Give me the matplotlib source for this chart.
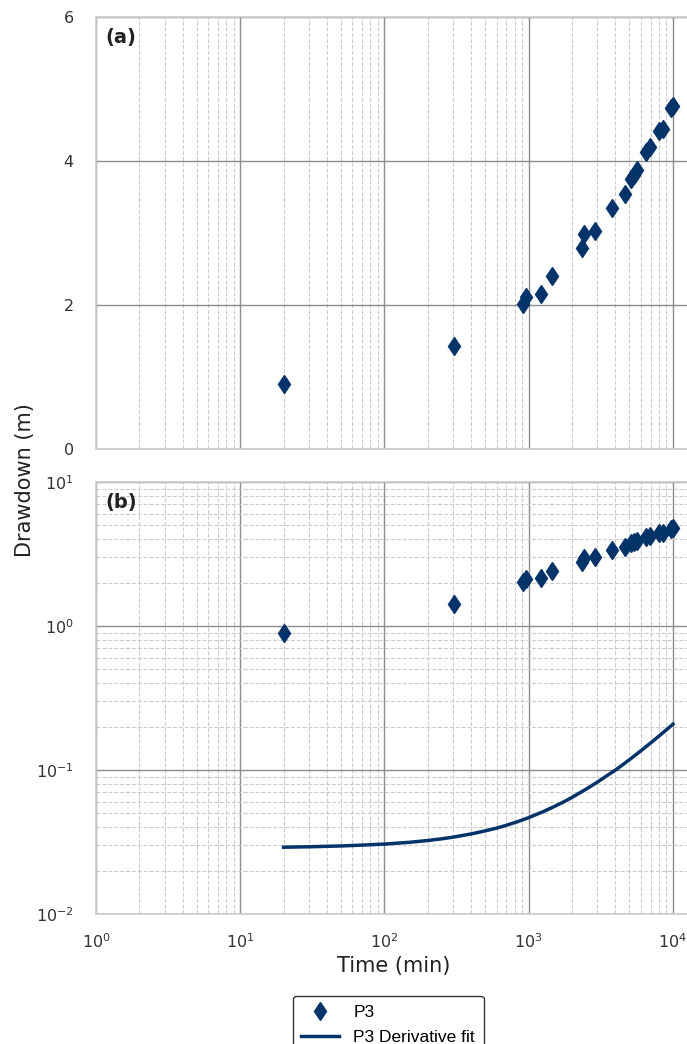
import matplotlib
matplotlib.use("Agg")
import matplotlib.pyplot as plt
from matplotlib.ticker import LogLocator, NullFormatter
import numpy as np

# P3 drawdown observations (time in min, drawdown in m)
time_p3 = [20, 303, 918, 958, 1211, 1445, 2333, 2410, 2890, 3810, 4670,
           5110, 5390, 5683, 6560, 6920, 8030, 8530, 9680, 10000]
draw_p3 = [0.90, 1.43, 2.01, 2.11, 2.16, 2.40, 2.79, 2.99, 3.03, 3.35, 3.54,
           3.75, 3.81, 3.87, 4.12, 4.19, 4.42, 4.45, 4.73, 4.76]

# derivative fit curve
time_fit = [20, 30, 50, 70, 100, 150, 200, 250, 300, 400, 500, 600, 700, 850,
            1000, 1250, 1500, 1750, 2000, 2500, 3000, 3500, 4000, 4500, 5000,
            6000, 7000, 8000, 9000, 10000]
deriv_fit = [0.0291, 0.0293, 0.0297, 0.0301, 0.0306, 0.0315, 0.0324, 0.0333,
             0.0342, 0.0360, 0.0378, 0.0395, 0.0413, 0.0440, 0.0467, 0.0512,
             0.0557, 0.0601, 0.0646, 0.0736, 0.0825, 0.0915, 0.100, 0.109,
             0.118, 0.136, 0.154, 0.172, 0.190, 0.208]

navy = '#04336a'
major_c = '#8c8c8c'
minor_c = '#cccccc'
spine_c = '#cccccc'
tick_c = '#333333'

fig = plt.figure(figsize=(6.87, 10.44), dpi=100)
ax1 = fig.add_axes([0.1397, 0.5699, 0.866, 0.4138])
ax2 = fig.add_axes([0.1397, 0.1245, 0.866, 0.4138])

xmax = 10 ** ((690 - 96) / 144.0)

for ax in (ax1, ax2):
    ax.set_xscale('log')
    ax.set_xlim(1, xmax)
    ax.xaxis.set_major_locator(LogLocator(base=10, numticks=10))
    ax.xaxis.set_minor_locator(LogLocator(base=10, subs=np.arange(2, 10), numticks=20))
    ax.xaxis.set_minor_formatter(NullFormatter())
    ax.grid(True, which='major', color=major_c, linewidth=1.0, linestyle='-')
    ax.grid(True, which='minor', axis='x', color=minor_c, linewidth=0.8, linestyle='--')
    ax.set_axisbelow(True)
    for s in ax.spines.values():
        s.set_color(spine_c)
        s.set_linewidth(1.2)
    ax.spines['right'].set_visible(False)
    ax.tick_params(which='both', length=0, labelsize=11.5, labelcolor=tick_c)
    ax.tick_params(axis='y', pad=16)
    ax.tick_params(axis='x', pad=13)

# (a) linear drawdown
ax1.plot(time_p3, draw_p3, linestyle='none', marker='d', markersize=9.5,
         color=navy, label='P3')
ax1.set_ylim(0, 6)
ax1.set_yticks([0, 2, 4, 6])
ax1.tick_params(axis='x', labelbottom=False)
ax1.text(0.015, 0.975, '(a)', transform=ax1.transAxes, fontsize=14,
         fontweight='bold', va='top', ha='left', color='#222222')

# (b) log-log with derivative fit
ax2.plot(time_p3, draw_p3, linestyle='none', marker='d', markersize=9.5,
         color=navy, label='P3')
ax2.plot(time_fit, deriv_fit, color=navy, linewidth=2.5, label='P3 Derivative fit')
ax2.set_yscale('log')
ax2.set_ylim(1e-2, 1e1)
ax2.yaxis.set_major_locator(LogLocator(base=10, numticks=10))
ax2.yaxis.set_minor_locator(LogLocator(base=10, subs=np.arange(2, 10), numticks=20))
ax2.yaxis.set_minor_formatter(NullFormatter())
ax2.grid(True, which='minor', axis='y', color=minor_c, linewidth=0.8, linestyle='--')
ax2.text(0.015, 0.975, '(b)', transform=ax2.transAxes, fontsize=14,
         fontweight='bold', va='top', ha='left', color='#222222')
ax2.set_xlabel('Time (min)', fontsize=15, color='#222222', labelpad=4)

fig.text(0.036, 0.54, 'Drawdown (m)', rotation=90, fontsize=15,
         color='#222222', ha='center', va='center')

handles, labels = ax2.get_legend_handles_labels()
leg = fig.legend(handles, labels, loc='upper center',
                 bbox_to_anchor=(0.565, 0.046), borderaxespad=0, frameon=True,
                 fancybox=True, edgecolor='black',
                 prop={'family': 'Liberation Sans', 'size': 12.5},
                 handlelength=2.2, borderpad=0.5, labelspacing=0.6)
leg.get_frame().set_linewidth(1.0)

fig.savefig('out.png', dpi=100)
